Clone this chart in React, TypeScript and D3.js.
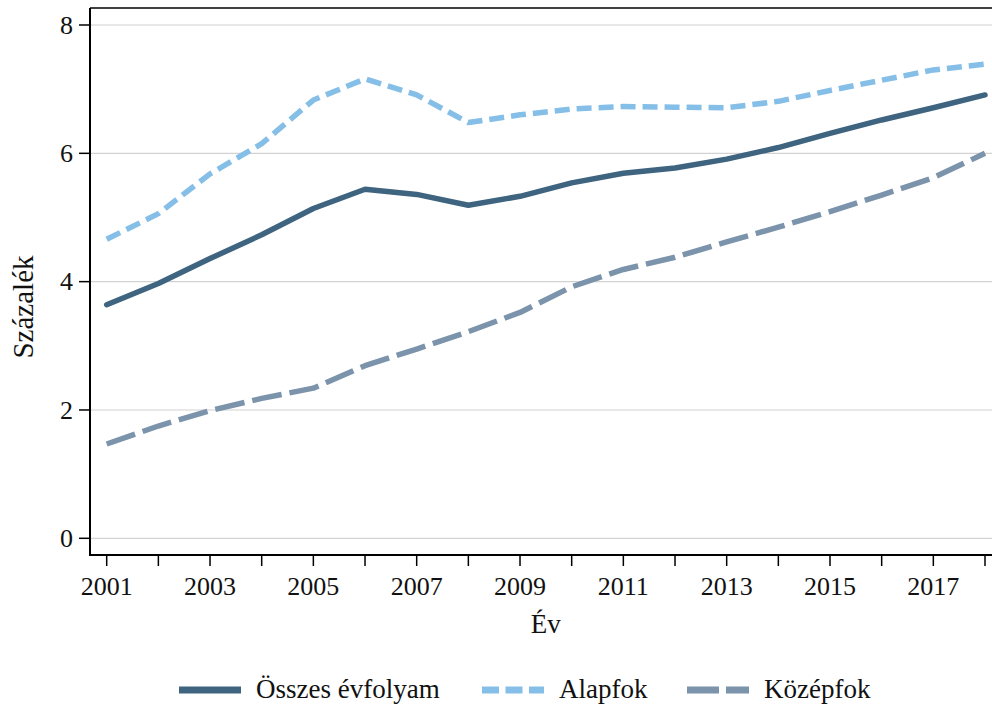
import React from 'react';
import * as d3 from 'd3';

const years = [2001, 2002, 2003, 2004, 2005, 2006, 2007, 2008, 2009, 2010, 2011, 2012, 2013, 2014, 2015, 2016, 2017, 2018];
const osszes = [3.64, 3.97, 4.36, 4.73, 5.14, 5.44, 5.36, 5.19, 5.33, 5.54, 5.69, 5.77, 5.91, 6.09, 6.31, 6.52, 6.71, 6.91];
const alapfok = [4.66, 5.06, 5.68, 6.15, 6.83, 7.16, 6.91, 6.48, 6.60, 6.69, 6.73, 6.72, 6.71, 6.81, 6.98, 7.14, 7.30, 7.39];
const kozepfok = [1.47, 1.75, 1.99, 2.18, 2.34, 2.69, 2.95, 3.22, 3.52, 3.92, 4.19, 4.38, 4.62, 4.85, 5.09, 5.35, 5.62, 6.00];
const yTicks = [0, 2, 4, 6, 8];
const xLabels = [2001, 2003, 2005, 2007, 2009, 2011, 2013, 2015, 2017];

const series = [
  { name: 'Összes évfolyam', values: osszes, color: '#3e6480', dash: 'none', legendDash: 'none' },
  { name: 'Alapfok', values: alapfok, color: '#85bfe8', dash: '15,7', legendDash: '17,6.5' },
  { name: 'Középfok', values: kozepfok, color: '#7b93ab', dash: '30,8', legendDash: '32,7' },
];

const W = 992;
const H = 708;
const left = 90;
const top = 8;
const bottom = 555;
const font = '"Liberation Serif", "Times New Roman", serif';

export default function App() {
  const x = d3.scaleLinear().domain([2001, 2018]).range([106.7, 985]);
  const y = d3.scaleLinear().domain([0, 8]).range([538.3, 25]);

  const line = d3.line<number>()
    .x((_, i) => x(years[i]))
    .y(d => y(d));

  const legendX = [179, 482, 687];

  return (
    <svg width={W} height={H} style={{ position: 'absolute', left: 0, top: 0, background: '#fff' }}
      fontFamily={font}>
      <rect x={0} y={0} width={W} height={H} fill="#fff" />

      {/* gridlines */}
      {yTicks.map(t => (
        <line key={'g' + t} x1={left} x2={W} y1={y(t)} y2={y(t)} stroke="#d2d2d2" strokeWidth={1.2} />
      ))}

      {/* series */}
      {series.map(s => (
        <path key={s.name} d={line(s.values) || ''} fill="none" stroke={s.color}
          strokeWidth={5.5} strokeDasharray={s.dash}
          strokeLinecap={s.dash === 'none' ? 'round' : 'butt'} strokeLinejoin="round" />
      ))}

      {/* frame */}
      <line x1={left} x2={W} y1={top} y2={top} stroke="#000" strokeWidth={1.5} />
      <line x1={left} x2={left} y1={top} y2={bottom} stroke="#000" strokeWidth={2} />
      <line x1={left - 1} x2={W} y1={bottom} y2={bottom} stroke="#000" strokeWidth={2} />

      {/* y axis */}
      {yTicks.map(t => (
        <g key={'y' + t}>
          <line x1={left - 11} x2={left} y1={y(t)} y2={y(t)} stroke="#000" strokeWidth={1.5} />
          <text x={73} y={y(t)} dy="0.34em" textAnchor="end" fontSize={26} fill="#111">{t}</text>
        </g>
      ))}

      {/* x axis */}
      {years.map(yr => (
        <line key={'xt' + yr} x1={x(yr)} x2={x(yr)} y1={bottom} y2={bottom + 11} stroke="#000" strokeWidth={1.5} />
      ))}
      {xLabels.map(yr => (
        <text key={'xl' + yr} x={x(yr)} y={595} textAnchor="middle" fontSize={26} fill="#111">{yr}</text>
      ))}

      {/* axis titles */}
      <text x={(x(2001) + x(2018)) / 2} y={633} textAnchor="middle" fontSize={27} fill="#111">Év</text>
      <text transform={`translate(33, 307) rotate(-90)`} textAnchor="middle" fontSize={29} fill="#111">Százalék</text>

      {/* legend */}
      {series.map((s, i) => (
        <g key={'lg' + s.name}>
          <line x1={legendX[i]} x2={legendX[i] + 62} y1={690} y2={690} stroke={s.color}
            strokeWidth={7} strokeDasharray={s.legendDash} />
          <text x={legendX[i] + 77} y={698} fontSize={27} fill="#111">{s.name}</text>
        </g>
      ))}
    </svg>
  );
}
